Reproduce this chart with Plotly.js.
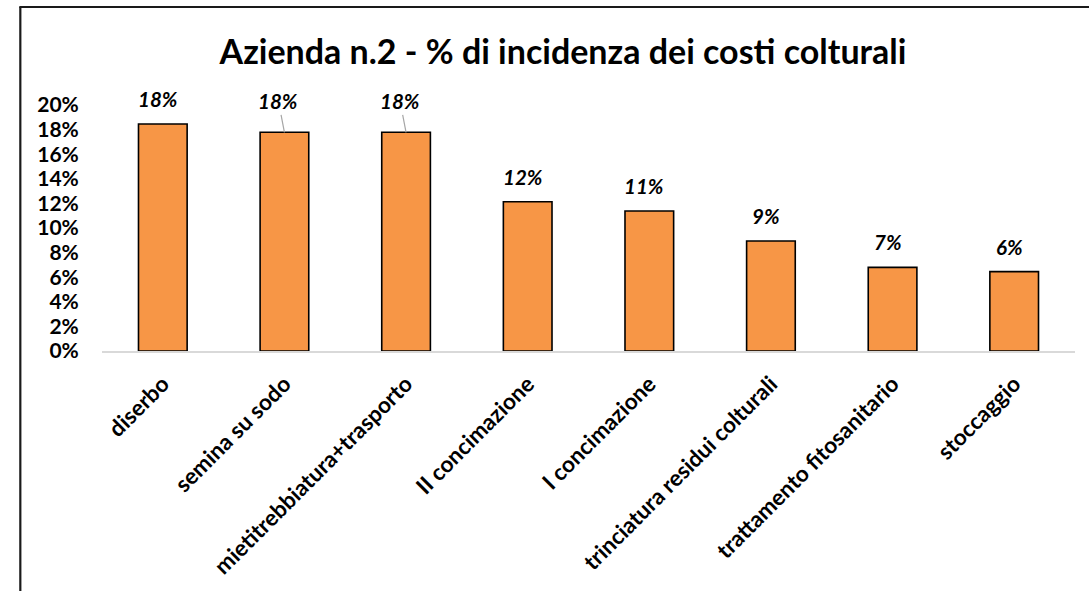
<!DOCTYPE html>
<html>
<head>
<meta charset="utf-8">
<script src="https://cdn.plot.ly/plotly-3.0.1.min.js"></script>
<style>
  html, body { margin: 0; padding: 0; background: #fff; }
  #chart { width: 1089px; height: 591px; }
</style>
</head>
<body>
<div id="chart"></div>
<script>
const chartTitle = "Azienda n.2 - % di incidenza dei costi colturali";
const categories = [
  "diserbo",
  "semina su sodo",
  "mietitrebbiatura+trasporto",
  "II concimazione",
  "I concimazione",
  "trinciatura residui colturali",
  "trattamento fitosanitario",
  "stoccaggio"
];
const shares = [0.1845, 0.1778, 0.1778, 0.1214, 0.1138, 0.0894, 0.0680, 0.0645];
const yTickValues = [0, 0.02, 0.04, 0.06, 0.08, 0.10, 0.12, 0.14, 0.16, 0.18, 0.20];
// labels that Excel moved up with a leader line
const leaderLabels = [false, true, true, false, false, false, false, false];

const FONT = "Lato, 'Open Sans', 'DejaVu Sans', sans-serif";

const trace = {
  type: "bar",
  x: categories,
  y: shares,
  width: 0.4,
  marker: { color: "#f79646", line: { color: "#000000", width: 1.6 } },
  hoverinfo: "x+y"
};

const annotations = categories.map((c, i) => {
  const txt = "<b><i>" + Math.round(shares[i] * 100) + "%</i></b>";
  if (leaderLabels[i]) {
    return {
      x: c, y: shares[i], xref: "x", yref: "y",
      text: txt, showarrow: true, arrowhead: 0, arrowwidth: 1.2,
      arrowcolor: "#a6a6a6", ax: -6, ay: -31, standoff: 0,
      font: { family: FONT, size: 20.5, color: "#000" }
    };
  }
  return {
    x: c, y: shares[i], xref: "x", yref: "y",
    text: txt, showarrow: false, yanchor: "middle", yshift: 25, xshift: -5,
    font: { family: FONT, size: 20.5, color: "#000" }
  };
});

const L = 101.7, R = 14, T = 105, B = 240;
const plotW = 1089 - L - R, plotH = 591 - T - B;
const px2x = px => (px - L) / plotW;
const py2y = py => (591 - B - py) / plotH;

const layout = {
  width: 1089, height: 591,
  margin: { l: L, r: R, t: T, b: B, pad: 0 },
  paper_bgcolor: "#ffffff", plot_bgcolor: "#ffffff",
  showlegend: false,
  bargap: 0.6,
  title: {
    text: "<b>" + chartTitle + "</b>",
    font: { family: FONT, size: 34, color: "#000" },
    x: 563 / 1089, xref: "container", xanchor: "center",
    y: 1 - 52 / 591, yref: "container", yanchor: "middle"
  },
  xaxis: {
    type: "category",
    tickangle: -45,
    tickfont: { family: FONT, size: 22.5, color: "#000", weight: "bold" },
    showline: true, linecolor: "#d9d9d9", linewidth: 2,
    ticks: "outside", ticklen: 9, tickcolor: "rgba(0,0,0,0)",
    showgrid: false, zeroline: false, fixedrange: true
  },
  yaxis: {
    range: [0, 0.2],
    tickvals: yTickValues,
    tickformat: ".0%",
    tickfont: { family: FONT, size: 21, color: "#000", weight: "bold" },
    ticks: "outside", ticklen: 18, tickcolor: "rgba(0,0,0,0)",
    showline: false, showgrid: false, zeroline: false, fixedrange: true
  },
  annotations: annotations,
  shapes: [
    { type: "line", xref: "paper", yref: "paper",
      x0: px2x(20), x1: px2x(20), y0: py2y(7), y1: py2y(620),
      line: { color: "#1a1a1a", width: 2.2 } },
    { type: "line", xref: "paper", yref: "paper",
      x0: px2x(19), x1: px2x(1100), y0: py2y(7), y1: py2y(7),
      line: { color: "#1a1a1a", width: 2.2 } }
  ]
};

Plotly.newPlot("chart", [trace], layout, { displayModeBar: false, staticPlot: true });
</script>
</body>
</html>
